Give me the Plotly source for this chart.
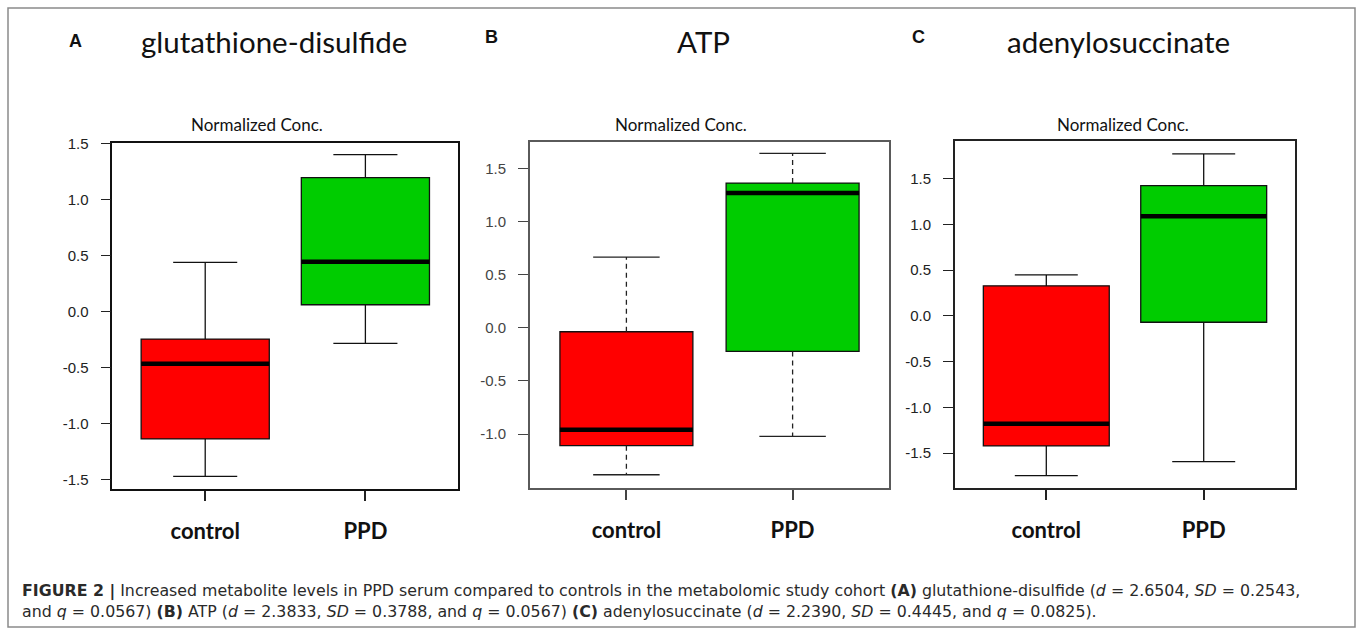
import plotly.graph_objects as go

W, H = 1358, 629

groups = ["control", "PPD"]
titles = ["glutathione-disulfide", "ATP", "adenylosuccinate"]
letters = ["A", "B", "C"]
subtitle = "Normalized Conc."

# [control, PPD] five-number summaries per panel
A_lower = [-1.471, -0.285]
A_q1 = [-1.137, 0.060]
A_median = [-0.466, 0.443]
A_q3 = [-0.246, 1.194]
A_upper = [0.437, 1.399]

B_lower = [-1.383, -1.022]
B_q1 = [-1.110, -0.223]
B_median = [-0.960, 1.267]
B_q3 = [-0.038, 1.361]
B_upper = [0.665, 1.641]

C_lower = [-1.747, -1.594]
C_q1 = [-1.422, -0.070]
C_median = [-1.181, 1.089]
C_q3 = [0.328, 1.425]
C_upper = [0.448, 1.772]

A_ticks = [-1.5, -1.0, -0.5, 0.0, 0.5, 1.0, 1.5]
B_ticks = [-1.0, -0.5, 0.0, 0.5, 1.0, 1.5]
C_ticks = [-1.5, -1.0, -0.5, 0.0, 0.5, 1.0, 1.5]
A_ticklabels = ["-1.5", "-1.0", "-0.5", "0.0", "0.5", "1.0", "1.5"]
B_ticklabels = ["-1.0", "-0.5", "0.0", "0.5", "1.0", "1.5"]
C_ticklabels = ["-1.5", "-1.0", "-0.5", "0.0", "0.5", "1.0", "1.5"]

caption1 = ("<b>FIGURE 2 |</b> Increased metabolite levels in PPD serum compared to controls in the metabolomic study cohort "
            "<b>(A)</b> glutathione-disulfide (<i>d</i> = 2.6504, <i>SD</i> = 0.2543,")
caption2 = ("and <i>q</i> = 0.0567) <b>(B)</b> ATP (<i>d</i> = 2.3833, <i>SD</i> = 0.3788, and <i>q</i> = 0.0567) "
            "<b>(C)</b> adenylosuccinate (<i>d</i> = 2.2390, <i>SD</i> = 0.4445, and <i>q</i> = 0.0825).")

colors = ["#FF0000", "#00CC00"]
BOXW = 0.8

panels = [
    dict(lo=A_lower, q1=A_q1, med=A_median, q3=A_q3, hi=A_upper, ticks=A_ticks, tl=A_ticklabels,
         xd=[112.3, 458.3], yd=[142.7, 489.3], yr=[-1.586, 1.505], frame="#111111", fw=1.5,
         tickcol="#222222", dashed=False, title_x=273.5, sub_x=257, letter_x=75, letter_y=41),
    dict(lo=B_lower, q1=B_q1, med=B_median, q3=B_q3, hi=B_upper, ticks=B_ticks, tl=B_ticklabels,
         xd=[530, 889], yd=[141.7, 487.7], yr=[-1.505, 1.75], frame="#5a5a5a", fw=2,
         tickcol="#444444", dashed=True, title_x=703.3, sub_x=681, letter_x=491, letter_y=37),
    dict(lo=C_lower, q1=C_q1, med=C_median, q3=C_q3, hi=C_upper, ticks=C_ticks, tl=C_ticklabels,
         xd=[955, 1295], yd=[141, 487.7], yr=[-1.879, 1.912], frame="#222222", fw=2,
         tickcol="#222222", dashed=False, title_x=1118, sub_x=1123, letter_x=918, letter_y=37),
]

fig = go.Figure()
annotations = []

for k, p in enumerate(panels):
    xa = "x" if k == 0 else f"x{k+1}"
    ya = "y" if k == 0 else f"y{k+1}"
    for i in range(2):
        if p["dashed"]:
            lf, uf = p["q1"][i], p["q3"][i]
        else:
            lf, uf = p["lo"][i], p["hi"][i]
        fig.add_trace(go.Box(
            x=[i], q1=[p["q1"][i]], median=[p["med"][i]], q3=[p["q3"][i]],
            lowerfence=[lf], upperfence=[uf], width=BOXW, whiskerwidth=0.5,
            fillcolor=colors[i], line=dict(color="#111111", width=1.3),
            boxpoints=False, showlegend=False, hoverinfo="skip",
            xaxis=xa, yaxis=ya))
        if p["dashed"]:
            fig.add_trace(go.Scatter(
                x=[i, i, None, i, i],
                y=[p["q3"][i], p["hi"][i], None, p["q1"][i], p["lo"][i]],
                mode="lines", line=dict(color="#222222", width=1.3, dash="5px,4px"),
                showlegend=False, hoverinfo="skip", xaxis=xa, yaxis=ya))
            fig.add_trace(go.Scatter(
                x=[i - BOXW / 4, i + BOXW / 4, None, i - BOXW / 4, i + BOXW / 4],
                y=[p["hi"][i], p["hi"][i], None, p["lo"][i], p["lo"][i]],
                mode="lines", line=dict(color="#222222", width=1.3),
                showlegend=False, hoverinfo="skip", xaxis=xa, yaxis=ya))
        # thick median line
        fig.add_trace(go.Scatter(
            x=[i - BOXW / 2, i + BOXW / 2], y=[p["med"][i], p["med"][i]],
            mode="lines", line=dict(color="#000000", width=4.5),
            showlegend=False, hoverinfo="skip", xaxis=xa, yaxis=ya))

    xkey = "xaxis" if k == 0 else f"xaxis{k+1}"
    ykey = "yaxis" if k == 0 else f"yaxis{k+1}"
    fig.layout[xkey] = dict(
        domain=[p["xd"][0] / W, p["xd"][1] / W], range=[-0.58, 1.58],
        anchor=ya, showgrid=False, zeroline=False, automargin=False,
        showline=True, mirror=True, linecolor=p["frame"], linewidth=p["fw"],
        tickmode="array", tickvals=[0, 1], ticktext=groups,
        ticks="outside", ticklen=10, tickwidth=1.5, tickcolor=p["tickcol"],
        ticklabelstandoff=12,
        tickfont=dict(family="Lato, Carlito, sans-serif", size=22, color="#111111", weight="bold"),
        fixedrange=True)
    fig.layout[ykey] = dict(
        domain=[1 - p["yd"][1] / H, 1 - p["yd"][0] / H], range=p["yr"],
        anchor=xa, showgrid=False, zeroline=False, automargin=False,
        showline=True, mirror=True, linecolor=p["frame"], linewidth=p["fw"],
        tickmode="array", tickvals=p["ticks"], ticktext=p["tl"],
        ticks="outside", ticklen=10, tickwidth=1.3, tickcolor=p["tickcol"],
        ticklabelstandoff=9,
        tickfont=dict(family="Liberation Sans, Arial, sans-serif", size=15, color=p["tickcol"]),
        fixedrange=True)

    annotations.append(dict(text=titles[k], x=p["title_x"] / W, y=1 - 41 / H, xref="paper", yref="paper",
                            xanchor="center", yanchor="middle", showarrow=False,
                            font=dict(family="Lato, Carlito, sans-serif", size=29.5, color="#111111")))
    annotations.append(dict(text=letters[k], x=p["letter_x"] / W, y=1 - p["letter_y"] / H, xref="paper",
                            yref="paper", xanchor="center", yanchor="middle", showarrow=False,
                            font=dict(family="Liberation Sans, Arial, sans-serif", size=18,
                                      color="#111111", weight="bold")))
    annotations.append(dict(text=subtitle, x=p["sub_x"] / W, y=1 - 125 / H, xref="paper", yref="paper",
                            xanchor="center", yanchor="middle", showarrow=False,
                            font=dict(family="Lato, Carlito, sans-serif", size=17, color="#111111")))

cap_font = dict(family="DejaVu Sans, Open Sans, sans-serif", size=15.8, color="#2a2a2a")
annotations.append(dict(text=caption1, x=20 / W, y=1 - 591 / H, xref="paper", yref="paper",
                        xanchor="left", yanchor="middle", showarrow=False, font=cap_font))
annotations.append(dict(text=caption2, x=20 / W, y=1 - 611 / H, xref="paper", yref="paper",
                        xanchor="left", yanchor="middle", showarrow=False, font=cap_font))

fig.update_layout(
    width=W, height=H, margin=dict(l=0, r=0, t=0, b=0, autoexpand=False),
    paper_bgcolor="white", plot_bgcolor="white",
    annotations=annotations,
    shapes=[dict(type="rect", xref="paper", yref="paper",
                 x0=8 / W, x1=1355 / W, y0=1 - 627 / H, y1=1 - 8 / H,
                 line=dict(color="#8a8a8a", width=1.5), fillcolor="rgba(0,0,0,0)", layer="below")],
)

fig.write_html("out.html")
